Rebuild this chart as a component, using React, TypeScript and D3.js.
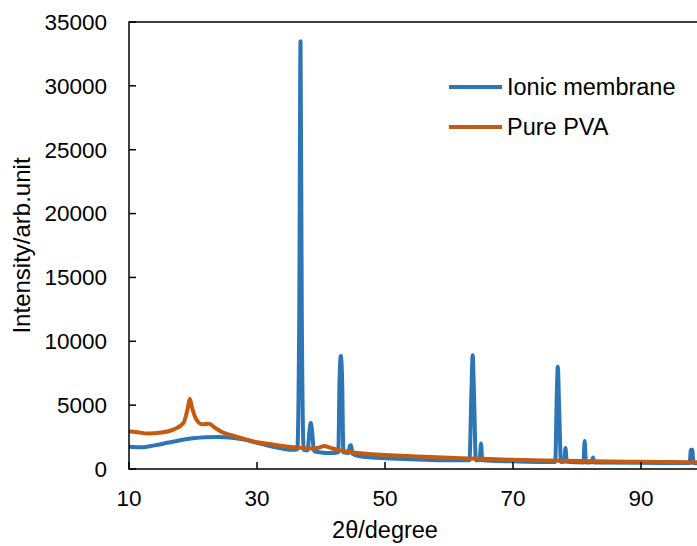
import React from "react";
import * as d3 from "d3";

const ionicX = [10, 12, 14, 16, 18, 20, 22, 24, 26, 28, 30, 32, 34, 35.5, 36.3, 36.6, 36.8, 37.0, 37.3, 37.9, 38.2, 38.4, 38.6, 38.9, 40, 41, 42, 42.7, 42.9, 43.1, 43.3, 43.5, 44.3, 44.5, 44.7, 44.9, 46, 48, 50, 55, 60, 63.2, 63.5, 63.7, 63.9, 64.2, 64.8, 65.0, 65.2, 70, 75, 76.6, 76.85, 77.0, 77.2, 77.5, 78.0, 78.2, 78.4, 81.0, 81.2, 81.4, 82.3, 82.5, 82.7, 90, 97.6, 97.8, 98.0, 98.2, 100];
const ionicY = [1750, 1700, 1850, 2050, 2250, 2400, 2480, 2500, 2450, 2300, 2050, 1800, 1600, 1500, 1550, 12000, 33500, 12000, 1500, 1450, 3000, 3600, 3000, 1400, 1300, 1250, 1250, 1300, 7000, 8850, 7000, 1300, 1250, 1800, 1850, 1200, 1000, 900, 850, 750, 680, 680, 6000, 8900, 6000, 680, 680, 2000, 680, 600, 550, 550, 6000, 8000, 5000, 550, 560, 1650, 560, 500, 2200, 500, 520, 900, 500, 480, 460, 1500, 1500, 460, 450];

const pvaX = [10, 11, 13, 15, 17, 18.5, 19.2, 19.5, 19.8, 20.5, 21.5, 22.5, 23.5, 24.5, 26, 28, 30, 32, 34, 36, 38, 39.5, 40.5, 41.5, 43, 45, 48, 50, 55, 60, 65, 70, 75, 80, 85, 90, 95, 100];
const pvaY = [2950, 2900, 2780, 2850, 3100, 3600, 4800, 5500, 4900, 3900, 3500, 3550, 3200, 2900, 2650, 2350, 2100, 1950, 1800, 1700, 1600, 1650, 1800, 1650, 1450, 1300, 1150, 1100, 980, 880, 800, 720, 670, 620, 590, 560, 540, 530];

const xTicks = [10, 30, 50, 70, 90];
const yTicks = [0, 5000, 10000, 15000, 20000, 25000, 30000, 35000];
const seriesNames = ["Ionic membrane", "Pure PVA"];
const seriesColors = ["#2E75B6", "#C55A11"];

export default function App() {
  const W = 697, H = 546;
  const left = 129, top = 22, bottom = 469, right = 705;
  const x = d3.scaleLinear().domain([10, 100]).range([left, right]);
  const y = d3.scaleLinear().domain([0, 35000]).range([bottom, top]);
  const mk = (xs: number[], ys: number[]) =>
    d3.line<number>().curve(d3.curveMonotoneX).x((i) => x(xs[i])).y((i) => y(ys[i]))(xs.map((_, i) => i)) || "";
  const font = "'Liberation Sans', Arial, sans-serif";
  return (
    <svg width={W} height={H} style={{ position: "absolute", left: 0, top: 0, background: "#fff" }}>
      <defs>
        <clipPath id="plot">
          <rect x={left} y={top - 2} width={right - left} height={bottom - top + 2} />
        </clipPath>
      </defs>
      <g clipPath="url(#plot)">
        <path d={mk(ionicX, ionicY)} fill="none" stroke={seriesColors[0]} strokeWidth={4} strokeLinejoin="round" />
        <path d={mk(pvaX, pvaY)} fill="none" stroke={seriesColors[1]} strokeWidth={4} strokeLinejoin="round" />
      </g>
      <rect x={left} y={top} width={right - left} height={bottom - top} fill="none" stroke="#000" strokeWidth={1.5} />
      {yTicks.map((t) => (
        <g key={"y" + t}>
          <line x1={left} x2={left + 7} y1={y(t)} y2={y(t)} stroke="#000" strokeWidth={1.5} />
          <text x={107} y={y(t)} dy="0.35em" textAnchor="end" fontFamily={font} fontSize={22.5} fill="#000">{t}</text>
        </g>
      ))}
      {xTicks.map((t) => (
        <g key={"x" + t}>
          <line x1={x(t)} x2={x(t)} y1={bottom} y2={bottom - 7} stroke="#000" strokeWidth={1.5} />
          <text x={x(t)} y={498} dy="0.35em" textAnchor="middle" fontFamily={font} fontSize={22.5} fill="#000">{t}</text>
        </g>
      ))}
      <text x={x(50)} y={530} dy="0.35em" textAnchor="middle" fontFamily={font} fontSize={23.5} fill="#000">2θ/degree</text>
      <text transform={`translate(22, ${(top + bottom) / 2}) rotate(-90)`} dy="0.35em" textAnchor="middle" fontFamily={font} fontSize={24} fill="#000">Intensity/arb.unit</text>
      {seriesNames.map((n, i) => (
        <g key={n}>
          <line x1={449} x2={502} y1={87 + i * 40} y2={87 + i * 40} stroke={seriesColors[i]} strokeWidth={4} />
          <text x={507} y={87 + i * 40} dy="0.35em" fontFamily={font} fontSize={23.5} fill="#000">{n}</text>
        </g>
      ))}
    </svg>
  );
}
